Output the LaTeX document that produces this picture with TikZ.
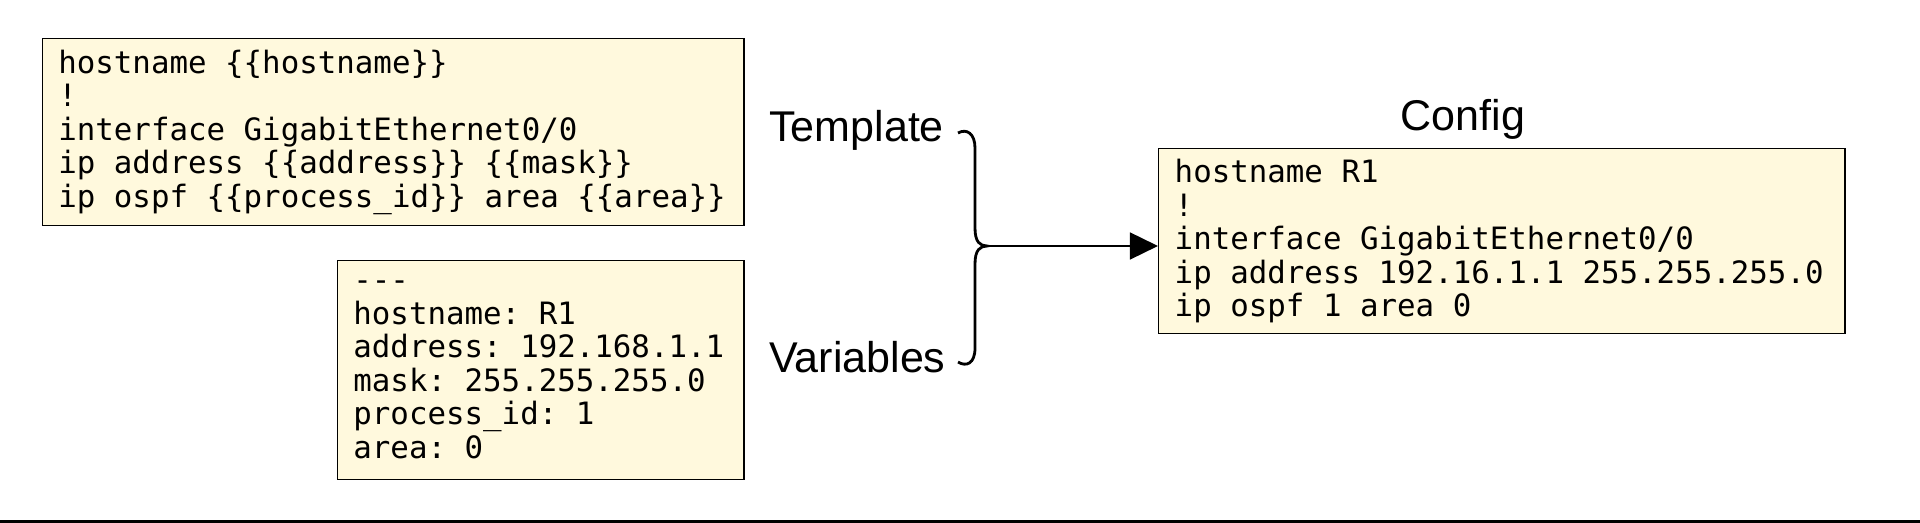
\documentclass[tikz,border=0pt]{standalone}
\usepackage{fontspec}
\setsansfont{Liberation Sans}
\setmonofont{DejaVu Sans Mono}
\usetikzlibrary{arrows.meta}
\usetikzlibrary{positioning}
\definecolor{codebg}{RGB}{255,249,221}
\newcommand{\fixedspaces}{\frenchspacing\spaceskip=0.602em\relax\xspaceskip=0.602em\relax}

\begin{document}
\begin{tikzpicture}[x=0.025cm,y=-0.025cm,
  codebox/.style={draw=black,line width=1pt,fill=codebg,anchor=north west,align=left,
    inner xsep=0.4cm,inner ysep=0pt,
    font=\ttfamily\fontsize{21.9}{23.9}\selectfont,execute at begin node=\fixedspaces},
  biglabel/.style={font=\sffamily\fontsize{30.6}{36}\selectfont,inner sep=0pt},
  link/.style={line width=2pt}]
\useasboundingbox (0,0) rectangle (1920,523);

% code boxes
\node[codebox,text width=16.735cm,minimum height=4.675cm] (tmplbox) at (41.6,38)
  {hostname \{\{hostname\}\}\\!\\interface GigabitEthernet0/0\\ip address \{\{address\}\} \{\{mask\}\}\\ip ospf \{\{process\_id\}\} area \{\{area\}\}};
\node[codebox,text width=9.36cm,minimum height=5.48cm] (varbox) at (336.7,259.6)
  {-{}-{}-\\hostname: R1\\address: 192.168.1.1\\mask: 255.255.255.0\\process\_id: 1\\area: 0};
\node[codebox,text width=16.35cm,minimum height=4.625cm] (cfgbox) at (1158,148)
  {hostname R1\\!\\interface GigabitEthernet0/0\\ip address 192.16.1.1 255.255.255.0\\ip ospf 1 area 0};

% labels
\node[biglabel,anchor=base west] (tmpllabel) at (769,142) {Template};
\node[biglabel,anchor=base west] (varlabel) at (769,373) {Variables};
\node[biglabel,anchor=base] (cfglabel) at (1463,131) {Config};

% brace and arrow
\coordinate (bracetop) at (958,133);
\coordinate (bracebot) at (958,362);
\coordinate (join) at (987,246);
\draw[link] (bracetop) .. controls (967,128) and (975,134) .. (975,148) -- (975,228)
  .. controls (975,242) and (980,246) .. (join)
  .. controls (980,246) and (975,250) .. (975,264) -- (975,348)
  .. controls (975,364) and (966,367) .. (bracebot);
\draw[link,-{Triangle[length=20pt,width=19pt]}] (join) -- (join -| cfgbox.west);

\draw[line width=1.5pt] (0,521.5) -- (1920,521.5);
\end{tikzpicture}
\end{document}
